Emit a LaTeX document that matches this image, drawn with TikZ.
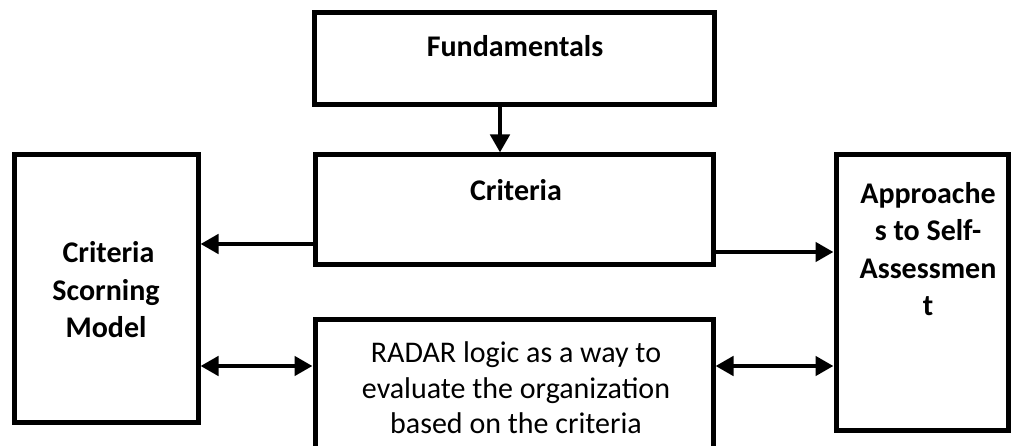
\documentclass[tikz,border=0pt]{standalone}
\usepackage{fontspec}
\setmainfont{Carlito}
\usetikzlibrary{arrows.meta}
\begin{document}
\begin{tikzpicture}[x=1pt,y=-1pt,
  box/.style={draw=black,line width=5pt,rectangle,inner sep=0pt},
  lbl/.style={font=\bfseries\fontsize{30}{37.5}\selectfont,align=center,inner sep=0pt},
  rlbl/.style={font=\fontsize{30}{35.5}\selectfont,align=center,inner sep=0pt},
  conn/.style={line width=4.5pt,-{Triangle[length=18pt,width=19pt]}},
  dconn/.style={line width=4.5pt,{Triangle[length=18pt,width=19pt]}-{Triangle[length=18pt,width=19pt]}}
]
\useasboundingbox (0,0) rectangle (1013,446);
\clip (0,0) rectangle (1013,446);
% boxes
\node[box,minimum width=400pt,minimum height=92pt] (fund) at (514,59) {};
\node[box,minimum width=398pt,minimum height=110pt] (crit) at (514,210) {};
\node[box,minimum width=184pt,minimum height=268pt] (scor) at (106,289) {};
\node[box,minimum width=172pt,minimum height=276pt] (appr) at (922,293) {};
\node[box,minimum width=398pt,minimum height=140pt] (radar) at (514,390) {};
% labels
\node[lbl] (fundt) at (515,46) {Fundamentals};
\node[lbl] (critt) at (516,190) {Criteria};
\node[lbl] (scort) at (106,290) {\,Criteria\\Scorning\\Model};
\node[lbl] (apprt) at (928,249) {Approache\\s to Self-\\Assessmen\\t};
\node[rlbl] (radart) at (516,388) {RADAR logic as a way to\\evaluate the organization\\based on the criteria};
% connectors
\draw[conn] (fund.south -| 500,0) -- (crit.north -| 500,0);
\draw[conn] (crit.west |- 0,244) -- (scor.east |- 0,244);
\draw[conn] (crit.east |- 0,252) -- (appr.west |- 0,252);
\draw[dconn] (scor.east |- 0,366) -- (radar.west |- 0,366);
\draw[dconn] (radar.east |- 0,366) -- (appr.west |- 0,366);
\end{tikzpicture}
\end{document}
